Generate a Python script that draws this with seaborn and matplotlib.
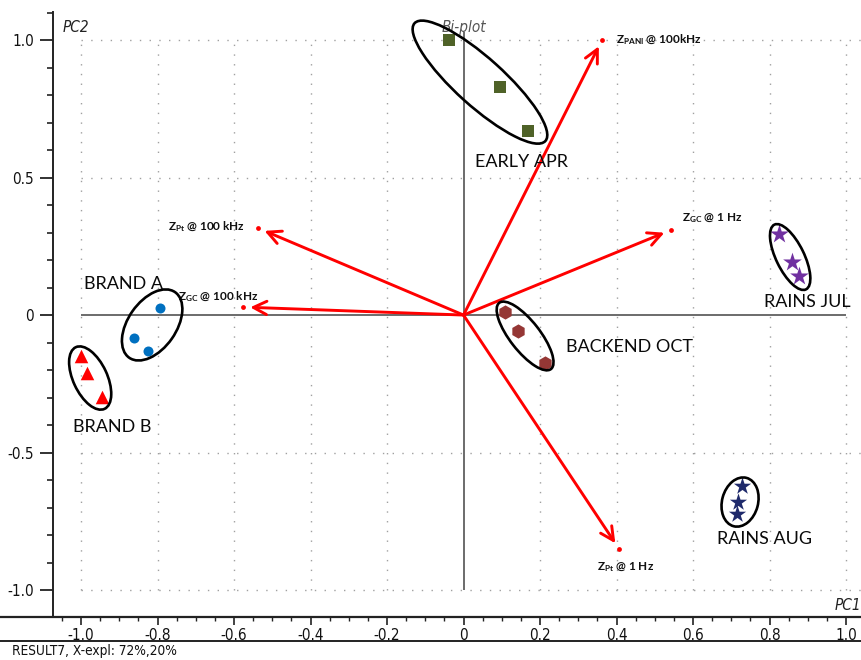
import matplotlib
matplotlib.use("Agg")
import matplotlib.pyplot as plt
import matplotlib.transforms as mtransforms
from matplotlib import font_manager as fm
from matplotlib.patches import Ellipse
from matplotlib.lines import Line2D
from matplotlib.ticker import MultipleLocator, FixedLocator
import numpy as np
import pandas as pd
import seaborn as sns

sns.set_theme(style="white")

# pick a narrow sans for axis text when one is installed
narrow_family, narrow_stretch = "Liberation Sans", "normal"
for f in fm.fontManager.ttflist:
    st = str(f.stretch).lower()
    if "narrow" in f.name.lower() or "condensed" in f.name.lower() or st in ("condensed", "semi-condensed", "600", "500", "semicondensed"):
        if f.style == "normal" and f.weight in (400, "normal", "regular"):
            narrow_family, narrow_stretch = f.name, f.stretch
            break

plt.rcParams["font.family"] = [narrow_family, "Liberation Sans", "DejaVu Sans"]
plt.rcParams["font.stretch"] = narrow_stretch
plt.rcParams["mathtext.fontset"] = "custom"
plt.rcParams["mathtext.rm"] = "Lato:bold"
plt.rcParams["mathtext.it"] = "Lato:bold"
plt.rcParams["mathtext.bf"] = "Lato:bold"

# ---- scores (PC1, PC2) per sample group ----
groups = ["EARLY APR", "RAINS JUL", "RAINS AUG", "BACKEND OCT", "BRAND A", "BRAND B"]
early_apr_pc1 = [-0.038, 0.095, 0.169]
early_apr_pc2 = [1.000, 0.829, 0.669]
rains_jul_pc1 = [0.825, 0.859, 0.877]
rains_jul_pc2 = [0.295, 0.193, 0.142]
rains_aug_pc1 = [0.728, 0.718, 0.715]
rains_aug_pc2 = [-0.622, -0.680, -0.724]
backend_oct_pc1 = [0.108, 0.142, 0.213]
backend_oct_pc2 = [0.011, -0.058, -0.175]
brand_a_pc1 = [-0.793, -0.861, -0.825]
brand_a_pc2 = [0.025, -0.084, -0.131]
brand_b_pc1 = [-1.000, -0.984, -0.945]
brand_b_pc2 = [-0.149, -0.211, -0.298]

# ---- loadings (arrow tips) ----
loading_labels = [r"Z$_{\mathrm{PANI}}$ @ 100kHz", r"Z$_{\mathrm{GC}}$ @ 1 Hz",
                  r"Z$_{\mathrm{Pt}}$ @ 100 kHz", r"Z$_{\mathrm{GC}}$ @ 100 kHz",
                  r"Z$_{\mathrm{Pt}}$ @ 1 Hz"]
loading_pc1 = [0.362, 0.542, -0.537, -0.576, 0.407]
loading_pc2 = [1.000, 0.309, 0.316, 0.029, -0.851]

x_ticks = [-1.0, -0.8, -0.6, -0.4, -0.2, 0.0, 0.2, 0.4, 0.6, 0.8, 1.0]
x_tick_labels = ["-1.0", "-0.8", "-0.6", "-0.4", "-0.2", "0", "0.2", "0.4", "0.6", "0.8", "1.0"]
y_ticks = [-1.0, -0.5, 0.0, 0.5, 1.0]
y_tick_labels = ["-1.0", "-0.5", "0", "0.5", "1.0"]

scores = pd.DataFrame({
    "group": np.repeat(groups, 3),
    "PC1": early_apr_pc1 + rains_jul_pc1 + rains_aug_pc1 + backend_oct_pc1 + brand_a_pc1 + brand_b_pc1,
    "PC2": early_apr_pc2 + rains_jul_pc2 + rains_aug_pc2 + backend_oct_pc2 + brand_a_pc2 + brand_b_pc2,
})

group_style = {
    "EARLY APR":   dict(color="#4f6228", marker="s", s=85),
    "RAINS JUL":   dict(color="#7030a0", marker="*", s=200),
    "RAINS AUG":   dict(color="#1f2a6b", marker="*", s=170),
    "BACKEND OCT": dict(color="#953735", marker="h", s=105),
    "BRAND A":     dict(color="#0070c0", marker="o", s=52),
    "BRAND B":     dict(color="#ff0000", marker="^", s=95),
}

# ellipse outlines: centre (data), semi-axes (px), angle (deg)
ellipses = {
    "EARLY APR":   ((0.043, 0.847), 88, 24, -42),
    "RAINS JUL":   ((0.854, 0.211), 36, 14, -64),
    "RAINS AUG":   ((0.723, -0.680), 25, 18, 75),
    "BACKEND OCT": ((0.161, -0.076), 42, 15, -52),
    "BRAND A":     ((-0.814, -0.036), 40, 24, 55),
    "BRAND B":     ((-0.976, -0.229), 34, 17, -65),
}
group_label_pos = {
    "EARLY APR":   (0.030, 0.556),
    "RAINS JUL":   (0.786, 0.047),
    "RAINS AUG":   (0.662, -0.815),
    "BACKEND OCT": (0.268, -0.116),
    "BRAND A":     (-0.993, 0.113),
    "BRAND B":     (-1.021, -0.407),
}
loading_label_pos = [(0.399, 1.000), (0.571, 0.353), (-0.773, 0.320), (-0.746, 0.065), (0.349, -0.916)]

W, H = 862, 660
fig = plt.figure(figsize=(W / 100, H / 100), dpi=100)
ax = fig.add_axes([53 / W, 43 / H, (W - 53) / W, (617 - 12) / H])
ax.set_xlim(-1.0732, 1.0418)
ax.set_ylim(-1.098, 1.102)

# dotted grid
grid_kw = dict(color="#a0a0a0", lw=1.0, linestyles=(0, (1, 6)), zorder=0)
ax.vlines([v for v in x_ticks if v != 0], -1.0, 1.0, **grid_kw)
ax.hlines([-1.0, -0.5, 0.5, 1.0], -1.0, 1.0418, **grid_kw)
# origin axes
ax.hlines(0, -1.0, 1.0, color="#444444", lw=1.1, zorder=1)
ax.vlines(0, -1.0, 1.03, color="#444444", lw=1.1, zorder=1)

# loadings
for (lx, ly) in zip(loading_pc1, loading_pc2):
    ax.annotate("", xy=(lx, ly), xytext=(0, 0),
                arrowprops=dict(arrowstyle="->,head_length=0.8,head_width=0.4",
                                color="#ff0000", lw=2.1, shrinkA=0, shrinkB=5),
                zorder=3)
sns.scatterplot(x=loading_pc1, y=loading_pc2, color="#ff0000", s=12, linewidth=0, ax=ax, zorder=4)
for lab, (tx, ty) in zip(loading_labels, loading_label_pos):
    ax.text(tx, ty, lab, fontsize=8.5, fontweight="bold", family="Lato", fontstretch="normal",
            ha="left", va="center", color="#111111", zorder=5)

# scores
for g in groups:
    st = group_style[g]
    sns.scatterplot(data=scores[scores["group"] == g], x="PC1", y="PC2",
                    color=st["color"], marker=st["marker"], s=st["s"],
                    linewidth=0, ax=ax, zorder=6, legend=False)

# group outlines
for g, ((cx, cy), a, b, ang) in ellipses.items():
    tr = fig.dpi_scale_trans + mtransforms.ScaledTranslation(cx, cy, ax.transData)
    ax.add_patch(Ellipse((0, 0), 2 * a / 100, 2 * b / 100, angle=ang, transform=tr,
                         fill=False, ec="black", lw=1.9, zorder=7))
for g, (tx, ty) in group_label_pos.items():
    ax.text(tx, ty, g, fontsize=13, family="Lato", fontstretch="normal", ha="left", va="center",
            color="#0a0a0a", zorder=8)

# titles on the plot area
ax.text(0.0, 1.045, "Bi-plot", fontsize=11, style="italic", color="#555555",
        ha="center", va="center", zorder=0.5)
ax.text(-1.047, 1.044, "PC2", fontsize=11, style="italic", color="#222222", ha="left", va="center")
ax.text(1.04, -1.055, "PC1", fontsize=11, style="italic", color="#222222", ha="right", va="center")

# axes styling
for side in ["top", "right", "bottom"]:
    ax.spines[side].set_visible(False)
ax.spines["left"].set_color("#222222")
ax.spines["left"].set_linewidth(1.4)
ax.set_xlabel("")
ax.set_ylabel("")

ax.yaxis.set_major_locator(FixedLocator(y_ticks))
ax.set_yticklabels(y_tick_labels)
ax.yaxis.set_minor_locator(MultipleLocator(0.1))
ax.tick_params(axis="y", which="major", direction="out", length=9.5, width=1.3,
               color="#222222", labelsize=11, pad=4, left=True, labelcolor="#111111")
ax.tick_params(axis="y", which="minor", direction="out", length=4, width=1.2,
               color="#222222", left=True)

ax.xaxis.set_major_locator(FixedLocator(x_ticks))
ax.set_xticklabels(x_tick_labels)
ax.xaxis.set_minor_locator(FixedLocator(np.arange(-1.05, 1.06, 0.05)))
ax.tick_params(axis="x", which="major", direction="out", length=6, width=1.2,
               color="#222222", labelsize=11, pad=2, bottom=True, labelcolor="#111111")
ax.tick_params(axis="x", which="minor", direction="out", length=3, width=1.0,
               color="#222222", bottom=True)

# full-width rules around the x-axis strip
for ypx, lw in [(617, 1.6), (641, 1.4)]:
    fig.add_artist(Line2D([0, 1], [1 - ypx / H] * 2, transform=fig.transFigure,
                          color="#222222", lw=lw))

fig.text(12 / W, 1 - 651 / H, "RESULT7, X-expl: 72%,20%", fontsize=9.8,
         ha="left", va="center", color="#111111")

fig.savefig("out.png", dpi=100)
